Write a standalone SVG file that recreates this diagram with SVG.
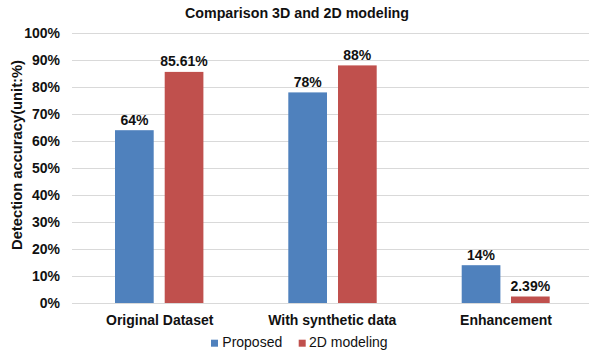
<svg xmlns="http://www.w3.org/2000/svg" width="589" height="358" viewBox="0 0 589 358">
  <style>
    text { font-family: "Liberation Sans", Arial, sans-serif; fill: #111; }
    .b { font-weight: bold; font-size: 14px; }
    .tick { font-weight: bold; font-size: 14px; text-anchor: end; }
    .val { font-weight: bold; font-size: 14px; text-anchor: middle; }
    .cat { font-weight: bold; font-size: 14px; text-anchor: middle; }
    .leg { font-size: 14px; }
    .grid line { stroke: #d9d9d9; stroke-width: 1; }
    .s1 { fill: #4f81bd; }
    .s2 { fill: #c0504d; }
  </style>
  <rect width="589" height="358" fill="#ffffff"/>

  <!-- title -->
  <text class="b" x="297" y="17.5" text-anchor="middle" textLength="224" lengthAdjust="spacingAndGlyphs">Comparison 3D and 2D modeling</text>

  <!-- value axis: gridlines every 10% (27 px) -->
  <g class="grid">
    <line x1="72" y1="33.5" x2="589" y2="33.5"/>
    <line x1="72" y1="60.5" x2="589" y2="60.5"/>
    <line x1="72" y1="87.5" x2="589" y2="87.5"/>
    <line x1="72" y1="114.5" x2="589" y2="114.5"/>
    <line x1="72" y1="141.5" x2="589" y2="141.5"/>
    <line x1="72" y1="168.5" x2="589" y2="168.5"/>
    <line x1="72" y1="195.5" x2="589" y2="195.5"/>
    <line x1="72" y1="222.5" x2="589" y2="222.5"/>
    <line x1="72" y1="249.5" x2="589" y2="249.5"/>
    <line x1="72" y1="276.5" x2="589" y2="276.5"/>
    <line x1="72" y1="303.5" x2="589" y2="303.5"/>
  </g>
  <g id="value-axis">
    <text class="tick" x="60" y="38">100%</text>
    <text class="tick" x="60" y="65">90%</text>
    <text class="tick" x="60" y="92">80%</text>
    <text class="tick" x="60" y="119">70%</text>
    <text class="tick" x="60" y="146">60%</text>
    <text class="tick" x="60" y="173">50%</text>
    <text class="tick" x="60" y="200">40%</text>
    <text class="tick" x="60" y="227">30%</text>
    <text class="tick" x="60" y="254">20%</text>
    <text class="tick" x="60" y="281">10%</text>
    <text class="tick" x="60" y="308">0%</text>
    <text class="b" transform="translate(21.5,155) rotate(-90)" text-anchor="middle" textLength="190" lengthAdjust="spacingAndGlyphs">Detection accuracy(unit:%)</text>
  </g>

  <!-- category: Original Dataset -->
  <g id="original-dataset">
    <rect class="s1" x="115" y="130.2" width="38.7" height="172.8"/>
    <rect class="s2" x="164.7" y="71.9" width="38.7" height="231.1"/>
    <text class="val" x="134.4" y="125">64%</text>
    <text class="val" x="184" y="66">85.61%</text>
    <text class="cat" x="159.7" y="324.5">Original Dataset</text>
  </g>

  <!-- category: With synthetic data -->
  <g id="with-synthetic-data">
    <rect class="s1" x="288.3" y="92.4" width="38.7" height="210.6"/>
    <rect class="s2" x="338" y="65.4" width="38.7" height="237.6"/>
    <text class="val" x="307.7" y="87.3">78%</text>
    <text class="val" x="357.3" y="60.3">88%</text>
    <text class="cat" x="332.3" y="324.5">With synthetic data</text>
  </g>

  <!-- category: Enhancement -->
  <g id="enhancement">
    <rect class="s1" x="461.7" y="265.2" width="38.7" height="37.8"/>
    <rect class="s2" x="511" y="296.5" width="38.7" height="6.5"/>
    <text class="val" x="481" y="260">14%</text>
    <text class="val" x="530.3" y="291">2.39%</text>
    <text class="cat" x="506" y="324.5">Enhancement</text>
  </g>

  <!-- legend -->
  <g id="legend">
    <rect class="s1" x="211" y="339.7" width="7" height="7"/>
    <text class="leg" x="222.3" y="346.8">Proposed</text>
    <rect class="s2" x="298.7" y="339.7" width="7" height="7"/>
    <text class="leg" x="309" y="346.8">2D modeling</text>
  </g>
</svg>
